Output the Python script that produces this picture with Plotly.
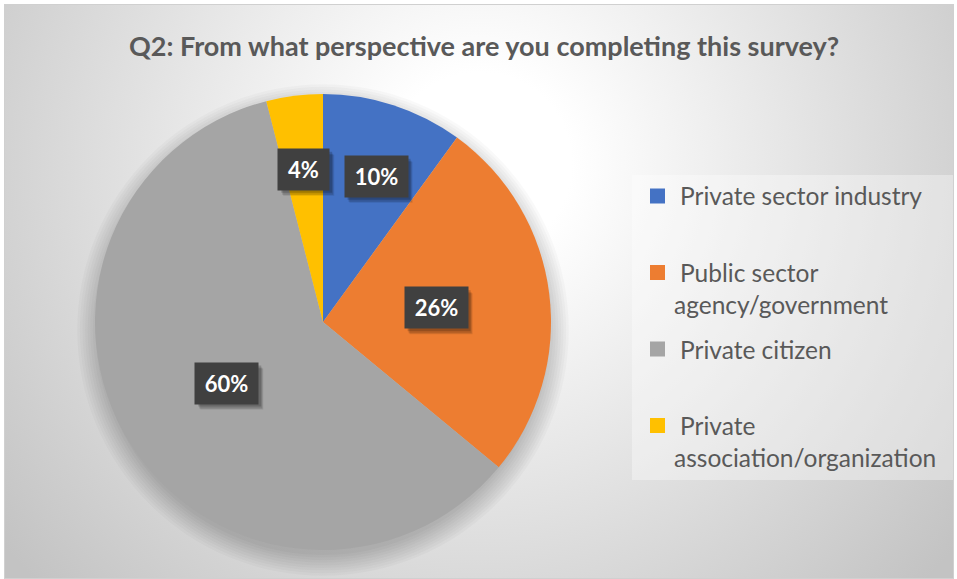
import base64
import math

import plotly.graph_objects as go

# Survey responses, Q2
categories = [
    "Private sector industry",
    "Public sector agency/government",
    "Private citizen",
    "Private association/organization",
]
shares = [10, 26, 60, 4]
pct_labels = ["10%", "26%", "60%", "4%"]
wrap_legend = [False, True, False, True]
title_text = "Q2: From what perspective are you completing this survey?"

colors = ["#4472C4", "#ED7D31", "#A5A5A5", "#FFC000"]
FONT = "Lato"
TEXT_GREY = "#595959"

W, H = 957, 579
# pie placement (pixels)
PCX, PCY, PR = 323, 322, 228

# data label placement: radius fraction and angular nudge (degrees) per slice
lab_r = [0.68, 0.50, 0.50, 0.675]
lab_nudge = [2, 0, 0, 0]


def px(x):
    return x / W


def py(y):
    return 1 - y / H


# radial-gradient chart area background as an SVG image
svg = (
    "<svg xmlns='http://www.w3.org/2000/svg' width='950' height='575' viewBox='0 0 950 575'>"
    "<defs><radialGradient id='g' gradientUnits='userSpaceOnUse' cx='476' cy='160' r='610'>"
    "<stop offset='0' stop-color='#ffffff'/>"
    "<stop offset='0.15' stop-color='#ffffff'/>"
    "<stop offset='1' stop-color='#c3c3c3'/>"
    "</radialGradient></defs>"
    "<rect x='0' y='0' width='950' height='575' fill='url(#g)'/>"
    "<rect x='0.5' y='0.5' width='949' height='574' fill='none' stroke='#d0d0d0' stroke-width='1'/>"
    "</svg>"
)
bg_uri = "data:image/svg+xml;base64," + base64.b64encode(svg.encode()).decode()

fig = go.Figure()
fig.add_trace(
    go.Pie(
        labels=categories,
        values=shares,
        sort=False,
        direction="clockwise",
        rotation=0,
        marker=dict(colors=colors, line=dict(width=0)),
        textinfo="none",
        hoverinfo="label+percent",
        showlegend=False,
        domain=dict(
            x=[px(PCX - PR), px(PCX + PR)],
            y=[py(PCY + PR), py(PCY - PR)],
        ),
    )
)

shapes = []
# soft shadow under the pie, offset downwards
for k in range(9):
    r = PR - 3 + k * 2.6
    cy = PCY + 8
    shapes.append(
        dict(
            type="circle", xref="paper", yref="paper", layer="below",
            x0=px(PCX - r), x1=px(PCX + r), y0=py(cy + r), y1=py(cy - r),
            fillcolor="rgba(0,0,0,0.022)", line=dict(width=0),
        )
    )

# legend panel
shapes.append(
    dict(
        type="rect", xref="paper", yref="paper", layer="below",
        x0=px(632), x1=px(953), y0=py(480), y1=py(175),
        fillcolor="rgba(255,255,255,0.35)", line=dict(width=0),
    )
)

annotations = []

# data labels positioned from each slice's mid angle
total = sum(shares)
cum = 0.0
for i, v in enumerate(shares):
    mid = (cum + v / 2) / total * 360 + lab_nudge[i]
    cum += v
    d = lab_r[i] * PR
    lx = PCX + d * math.sin(math.radians(mid))
    ly = PCY - d * math.cos(math.radians(mid))
    bw = 51 if len(pct_labels[i]) > 2 else 39
    half_w = (bw + 12) / 2
    half_h = (29 + 12) / 2
    # drop shadow behind the label box
    for sx, sy, a in [(5, 6, 0.10), (4, 5, 0.14), (3, 3, 0.18)]:
        shapes.append(
            dict(
                type="rect", xref="paper", yref="paper", layer="above",
                x0=px(lx - half_w + sx), x1=px(lx + half_w + sx),
                y0=py(ly + half_h + sy), y1=py(ly - half_h + sy),
                fillcolor=f"rgba(0,0,0,{a})", line=dict(width=0),
            )
        )
    annotations.append(
        dict(
            x=px(lx), y=py(ly), xref="paper", yref="paper",
            xanchor="center", yanchor="middle",
            text=f"<b>{pct_labels[i]}</b>", showarrow=False,
            width=bw, height=29, borderpad=6, bgcolor="#404040",
            font=dict(family=FONT, size=22, color="white"),
        )
    )

# legend entries
for i, name in enumerate(categories):
    yc = 196 + 76.5 * i
    shapes.append(
        dict(
            type="rect", xref="paper", yref="paper",
            x0=px(650), x1=px(665), y0=py(yc + 7.5), y1=py(yc - 7.5),
            fillcolor=colors[i], line=dict(width=0),
        )
    )
    lines = name.rsplit(" ", 1) if wrap_legend[i] else [name]
    for j, line in enumerate(lines):
        annotations.append(
            dict(
                x=px(678 if j == 0 else 672), y=py(yc + 32 * j),
                xref="paper", yref="paper", xanchor="left", yanchor="middle",
                text=line, showarrow=False,
                font=dict(family=FONT, size=24.5, color=TEXT_GREY),
            )
        )

# title
annotations.append(
    dict(
        x=px(484), y=py(45), xref="paper", yref="paper",
        xanchor="center", yanchor="middle",
        text=f"<b>{title_text}</b>", showarrow=False,
        font=dict(family=FONT, size=27, color=TEXT_GREY),
    )
)

fig.update_layout(
    width=W, height=H,
    margin=dict(l=0, r=0, t=0, b=0),
    paper_bgcolor="white",
    plot_bgcolor="white",
    images=[
        dict(
            source=bg_uri, xref="paper", yref="paper",
            x=px(4), y=py(4), sizex=px(950), sizey=575 / H,
            xanchor="left", yanchor="top", sizing="stretch", layer="below",
        )
    ],
    shapes=shapes,
    annotations=annotations,
)

fig.write_html("out.html")
